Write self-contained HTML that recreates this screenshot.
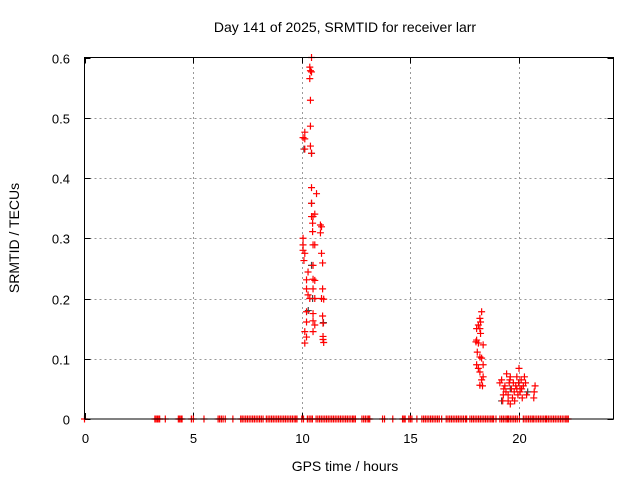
<!DOCTYPE html>
<html><head><meta charset="utf-8"><style>
body{margin:0;background:#fff;}
svg{display:block;font-family:"Liberation Sans","DejaVu Sans",sans-serif;}
</style></head><body>
<svg id="chart" width="640" height="480" viewBox="0 0 640 480">
<text x="345" y="32" text-anchor="middle" font-size="14">Day 141 of 2025, SRMTID for receiver larr</text>
<text x="345" y="471" text-anchor="middle" font-size="14">GPS time / hours</text>
<text transform="translate(19,238) rotate(-90)" text-anchor="middle" font-size="14">SRMTID / TECUs</text>
<g id="grid"></g>
<g id="ticks"></g>
<g id="grey"></g>
<g id="red"></g>
<rect x="84.5" y="57.5" width="529" height="361.5" fill="none" stroke="#000" stroke-width="1"/>
</svg>
<script>
const xTicks=[0,5,10,15,20];
const yTicks=[0,0.1,0.2,0.3,0.4,0.5,0.6];
const yTickLabels=["0","0.1","0.2","0.3","0.4","0.5","0.6"];
const zeroHours=[0,3.24,3.3,3.36,3.42,3.46,3.72,4.32,4.38,4.44,4.49,4.92,5.01,5.5,6.15,6.22,6.3,6.38,6.48,6.83,7.19,7.26,7.34,7.42,7.5,7.58,7.66,7.74,7.82,7.9,7.98,8.06,8.14,8.22,8.37,8.45,8.53,8.61,8.69,8.77,8.85,8.93,9.01,9.09,9.17,9.25,9.33,9.41,9.49,9.57,9.65,9.72,9.78,10.0,10.08,10.26,10.34,10.42,10.49,10.66,10.74,10.82,10.9,10.98,11.06,11.14,11.22,11.3,11.38,11.46,11.54,11.62,11.7,11.78,11.86,11.94,12.02,12.1,12.18,12.26,12.34,12.4,12.47,12.77,12.85,12.93,13.01,13.08,13.13,13.72,13.81,14.19,14.64,14.7,14.76,14.93,15.0,15.07,15.3,15.53,15.61,15.69,15.77,15.85,15.93,16.01,16.09,16.17,16.25,16.33,16.44,16.65,16.73,16.81,16.89,16.97,17.05,17.13,17.21,17.29,17.37,17.45,17.54,17.59,17.74,17.82,17.9,17.98,18.06,18.14,18.22,18.3,18.38,18.46,18.54,18.62,18.7,18.77,18.83,18.94,19.12,19.2,19.28,19.36,19.44,19.48,19.52,19.6,19.68,19.76,19.84,19.92,20.02,20.2,20.28,20.36,20.44,20.52,20.6,20.66,20.74,20.82,20.9,20.98,21.06,21.14,21.22,21.27,21.35,21.43,21.51,21.59,21.67,21.75,21.83,21.91,21.99,22.07,22.15,22.21,22.27];
const spikeHours=[10.45,10.37,10.4,10.45,10.37,10.4,10.4,10.14,10.06,10.14,10.14,10.4,10.45,10.45,10.68,10.45,10.6,10.45,10.52,10.5,10.86,10.91,10.5,10.86,10.06,10.06,10.06,10.14,10.1,10.52,10.6,10.91,10.96,10.52,10.29,10.22,10.52,10.6,10.22,10.52,10.96,10.29,10.37,10.6,10.91,11.01,10.22,10.52,10.96,10.22,10.52,10.6,10.98,10.14,10.52,10.22,10.98,10.14,11.01,10.98];
const spikeValues=[0.600,0.584,0.578,0.576,0.565,0.529,0.486,0.476,0.467,0.465,0.448,0.453,0.441,0.384,0.374,0.358,0.340,0.336,0.336,0.325,0.322,0.319,0.311,0.309,0.300,0.289,0.280,0.275,0.263,0.289,0.289,0.275,0.259,0.255,0.244,0.231,0.232,0.230,0.216,0.216,0.216,0.206,0.200,0.200,0.200,0.199,0.178,0.175,0.171,0.161,0.163,0.156,0.159,0.145,0.145,0.136,0.137,0.126,0.127,0.132];
const clusterHours=[18.28,18.2,18.23,18.13,18.2,18.05,18.23,18.05,18.02,18.13,18.35,18.08,18.2,18.28,18.35,18.05,18.13,18.2,18.35,18.28,18.2,18.32,19.12,19.2,19.3,19.43,19.5,19.6,19.74,19.8,19.9,20.05,20.1,20.2,20.35,20.0,19.9,19.7,19.55,19.4,19.25,19.6,19.85,20.15,20.3,20.74,20.7,20.68,19.65,19.95,20.05,19.5,19.35,20.25,19.78,19.98,20.12,19.58,19.28];
const clusterValues=[0.178,0.167,0.161,0.156,0.150,0.150,0.142,0.131,0.128,0.126,0.123,0.111,0.103,0.101,0.090,0.090,0.084,0.078,0.070,0.065,0.056,0.055,0.060,0.065,0.050,0.075,0.040,0.070,0.060,0.030,0.050,0.045,0.065,0.055,0.040,0.084,0.070,0.035,0.060,0.045,0.030,0.025,0.055,0.035,0.060,0.055,0.045,0.035,0.050,0.040,0.050,0.030,0.055,0.070,0.045,0.060,0.050,0.065,0.040];
const greyHours=[10.1,10.45,10.45,10.45,10.3,11.0,10.5,19.2,19.6,20.0,20.4];
const greyValues=[0.448,0.441,0.358,0.255,0.180,0.160,0.20,0.030,0.050,0.060,0.045];

const X0=84.5,X1=613.5,Y0=419,Y1=57.5,XMAX=24.35,YMAX=0.6;
const sx=h=>X0+h/XMAX*(X1-X0);
const sy=v=>Y0-v/YMAX*(Y0-Y1);
const NS="http://www.w3.org/2000/svg";
function mk(t,a,p){const e=document.createElementNS(NS,t);for(const k in a)e.setAttribute(k,a[k]);p.appendChild(e);return e;}
const grid=document.getElementById('grid'),ticks=document.getElementById('ticks');
xTicks.forEach((t,i)=>{const x=Math.round(sx(t))+0.5;
 if(t>0){const g=mk('line',{x1:x,x2:x,y1:Y0,y2:Y1,stroke:'#999','stroke-dasharray':'2,3'},grid);
 
 }
 mk('line',{x1:x,x2:x,y1:Y0,y2:Y0-6,stroke:'#000'},ticks);
 mk('line',{x1:x,x2:x,y1:Y1,y2:Y1+6,stroke:'#000'},ticks);
 const l=mk('text',{x:x,y:443,'text-anchor':'middle','font-size':'13'},ticks);l.textContent=t;
 
 
});
yTicks.forEach((t,i)=>{const y=Math.round(sy(t))+0.5;
 if(t>0&&t<0.6){const g=mk('line',{x1:X0,x2:X1,y1:y,y2:y,stroke:'#999','stroke-dasharray':'2,3'},grid);
 
 }
 mk('line',{x1:X0,x2:X0+6,y1:y,y2:y,stroke:'#000'},ticks);
 mk('line',{x1:X1,x2:X1-6,y1:y,y2:y,stroke:'#000'},ticks);
 const l=mk('text',{x:70,y:y+5,'text-anchor':'end','font-size':'13'},ticks);l.textContent=yTickLabels[i];
 
 
});
function cross(h,v,col,parent,name){const x=sx(h),y=sy(v);
 const p=mk('path',{d:`M${x-3.5} ${y}H${x+3.5}M${x} ${y-3.5}V${y+3.5}`,stroke:col,'stroke-width':'1.2',fill:'none'},parent);
 
 }
const grey=document.getElementById('grey'),red=document.getElementById('red');
greyHours.forEach((h,i)=>cross(h,greyValues[i],'#444',grey,'grey-point'));
zeroHours.forEach(h=>cross(h,0,'#f00',red,'zero-point'));
spikeHours.forEach((h,i)=>cross(h,spikeValues[i],'#f00',red,'spike-point'));
clusterHours.forEach((h,i)=>cross(h,clusterValues[i],'#f00',red,'cluster-point'));
</script>
</body></html>
